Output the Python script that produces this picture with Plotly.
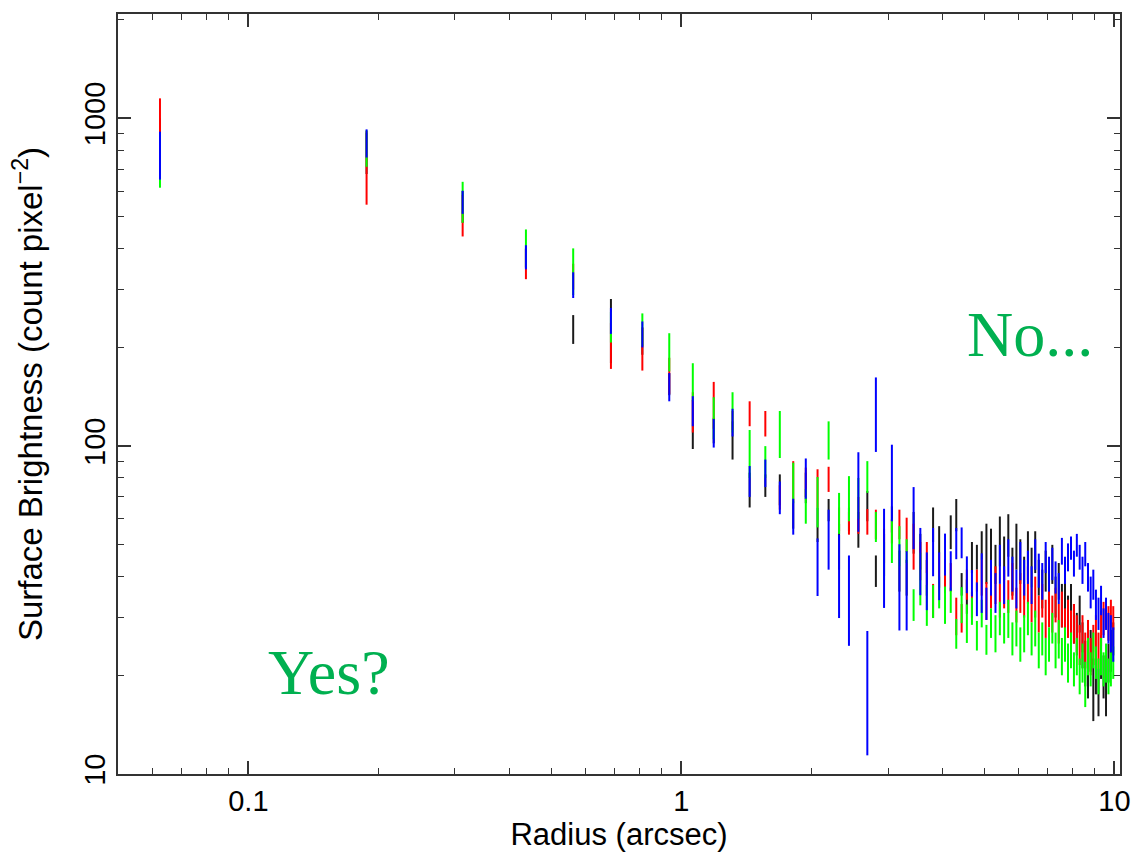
import numpy as np
import plotly.graph_objects as go

# Radial bins: 0.125 arcsec wide, centres from 0.0625 to 9.9375
radius = [(i + 0.5) * 0.125 for i in range(80)]

black_sb = [850, 790, 540, 375, 228, 230, 210, 155, 118, 112,
            105, 74, 76, 74, 62, 75, 58, 64, 50, 60,
            56, 66, 41.8, 47, 60, 42, 40, 55, 48, 40,
            58, 52, 38, 55, 62, 38, 35, 46, 46, 50,
            48, 48, 44, 52, 46, 54, 42, 50, 45, 40,
            47, 43, 48, 40, 37, 42, 38, 44, 35, 39,
            33, 36, 31, 34, 29, 27, 31, 25, 22, 20,
            24, 18.5, 21, 18, 23, 20, 19, 22, 24, 26]
black_err = [150, 114, 60, 25, 23, 51, 20, 12, 20, 10,
             14, 9, 6, 8, 6, 8, 7, 5, 8, 5,
             7, 7, 4.6, 7, 5.5, 6, 5, 8, 6, 5,
             7, 5, 2.4, 6.5, 7, 3, 4.2, 5, 4, 5,
             10, 8, 6, 9, 7, 8, 7, 8, 7, 6,
             8, 6, 7, 5, 5, 6, 5, 6, 5, 5,
             5, 5, 4, 4, 4, 4, 4, 4, 3.5, 3,
             3.5, 4, 3.5, 3, 3.5, 3, 4, 3, 3.5, 3]

red_sb = [950, 730, 510, 362, 330, 205, 200, 165, 128, 135,
          120, 126, 117.5, 70, 79, 78, 75, 79.5, 60, 58.4,
          62, 59, 58, 50, 55, 58, 54, 50, 45, 46,
          34, 42, 41, 40, 30.5, 30, 38, 33, 39, 40,
          34, 36, 38, 34, 37, 35, 39, 33, 36, 34,
          38, 33, 35, 31, 34, 30, 33, 31, 33, 29,
          32, 28, 30, 28, 29, 27, 25, 27, 24, 26,
          23, 25, 27, 24, 28, 30, 31, 29, 31, 30]
red_err = [200, 185, 74, 39, 30, 33, 30, 21, 18, 22,
           8, 11, 10.5, 6, 11, 8, 10, 7, 5, 4.7,
           8, 5.3, 6, 6, 4.5, 6, 6.5, 8, 6, 5,
           4, 5, 4.3, 4, 4, 3, 4, 3, 3, 5,
           4.5, 4, 5, 4, 5, 4, 5, 4, 5, 4,
           5, 4, 5, 4, 4, 4, 5, 4, 4, 4,
           4, 4, 4, 3.5, 4, 3.5, 3.5, 3.5, 3, 3.5,
           3, 3.5, 3.5, 3, 3.5, 3.5, 3, 3.5, 3, 2.5]

green_sb = [760, 815, 560, 405, 345, 232, 228, 195, 158, 123,
            128, 96, 90, 110, 78, 66, 68.5, 105, 63, 70,
            70, 81, 57, 45, 52, 50, 48, 32.95, 40, 33,
            33.8, 36, 33, 34, 26.9, 33, 29, 31.5, 26.55, 31,
            25.8, 29, 27, 30, 28, 30, 26, 28, 25, 27,
            30, 26, 28, 24, 26, 23, 25, 28, 24, 26,
            23, 25, 22, 24, 21, 23, 20, 22, 19, 23,
            21, 24, 22, 20, 23, 21, 22, 20, 21, 22]
green_err = [146, 104, 80, 53, 56, 25, 26, 26, 21, 18,
             18, 16, 10, 18, 11, 8, 12, 14, 9, 11,
             10, 9, 6, 6, 8, 7, 4, 3.65, 7.3, 4.7,
             3.9, 4, 4.3, 3, 2.8, 4.15, 3.9, 3, 2.75, 3,
             2.7, 3, 3.5, 3.5, 3, 4, 3, 3.5, 3, 3.5,
             3.5, 3, 3.5, 3, 3, 3, 3, 3, 3, 3.5,
             3, 3, 3, 3, 2.5, 3, 2.5, 3, 3, 3,
             2.5, 3, 2.5, 2.5, 3, 2.5, 3, 2.5, 2.5, 2.5]

blue_sb = [780, 842, 556, 378, 311, 242, 220, 152, 128.5, 110,
           118.5, 78.5, 83, 70, 61.4, 80.4, 43.6, 53, 41.8, 35.5,
           75.3, 19.35, 129, 48.25, 80, 38.8, 37.6, 61.75, 45.7, 39.5,
           48.2, 40.65, 47.2, 42, 50.75, 51, 40.85, 38.35, 34.35, 39.05,
           33.25, 40, 36, 44, 38, 46, 41, 37, 45, 40,
           43, 38, 47, 42, 39, 46, 41, 44, 40, 37,
           48, 42, 46, 49, 44, 50, 46, 42, 47, 40,
           36, 38, 33, 31, 34, 29, 31, 28, 27, 25]
blue_err = [130, 83, 45, 32, 28, 22, 20, 15, 13.5, 11,
            11.5, 8.5, 8, 8, 7.7, 11.3, 8.7, 11, 11.9, 10.9,
            20.5, 7.95, 33, 16.15, 21, 11.4, 10.2, 13.25, 10.6, 7.9,
            8.1, 6.75, 6.9, 5.8, 5.55, 5.5, 5.25, 3.55, 4.05, 8.05,
            3.75, 5, 5, 6, 5, 6, 5, 5, 6, 5,
            5, 5, 5, 5, 5, 5, 5, 5, 4.5, 4,
            4.5, 4, 4.5, 4, 4, 4, 4, 4, 4, 4,
            4, 4, 3.5, 3.5, 3.5, 3, 3.5, 3, 3.5, 3]

x_ticks = [0.1, 1, 10]
x_tick_text = ["0.1", "1", "10"]
y_ticks = [10, 100, 1000]
y_tick_text = ["10", "100", "1000"]

# minor ticks at 2..9 of each decade
x_minor = [m * d for d in (0.01, 0.1, 1) for m in range(2, 10)]
y_minor = [m * d for d in (10, 100, 1000) for m in range(2, 10)]

series = [
    ("black", black_sb, black_err, "#1a1a1a"),
    ("red", red_sb, red_err, "#ff0000"),
    ("green", green_sb, green_err, "#00ff00"),
    ("blue", blue_sb, blue_err, "#0000ff"),
]

fig = go.Figure()
for name, sb, err, col in series:
    fig.add_trace(go.Scatter(
        x=radius, y=sb, name=name, mode="markers",
        marker=dict(size=1, color="rgba(0,0,0,0)"),
        error_y=dict(type="data", array=err, color=col, thickness=2, width=0),
        showlegend=False,
    ))

tick_font = dict(family="Liberation Sans, Arial, sans-serif", size=29, color="#000000")
xtitle_font = dict(family="Liberation Sans, Arial, sans-serif", size=31, color="#000000")
ytitle_font = dict(family="Liberation Sans, Arial, sans-serif", size=33, color="#000000")

fig.update_xaxes(
    type="log", range=[np.log10(0.05), np.log10(10.3)],
    tickvals=x_ticks, ticktext=x_tick_text,
    ticks="inside", ticklen=13, tickwidth=1.5, tickcolor="#333333",
    minor=dict(tickvals=x_minor, ticks="inside", ticklen=6, tickwidth=1.2,
               tickcolor="#333333", showgrid=False),
    showline=True, linecolor="#333333", linewidth=1.5, mirror="allticks",
    showgrid=False, zeroline=False, tickfont=tick_font,
    title=dict(text="Radius (arcsec)", font=xtitle_font, standoff=6),
)
fig.update_yaxes(
    type="log", range=[1, 3.318],
    tickvals=y_ticks, ticktext=y_tick_text, tickangle=-90,
    ticks="inside", ticklen=13, tickwidth=1.5, tickcolor="#333333",
    minor=dict(tickvals=y_minor, ticks="inside", ticklen=6, tickwidth=1.2,
               tickcolor="#333333", showgrid=False),
    showline=True, linecolor="#333333", linewidth=1.5, mirror="allticks",
    showgrid=False, zeroline=False, tickfont=tick_font,
    title=dict(text="Surface Brightness (count pixel<sup>−2</sup>)", font=ytitle_font, standoff=26),
)

note_font = dict(family="Liberation Serif, Times New Roman, serif", size=64, color="#00b050")
fig.add_annotation(text="No...", xref="paper", yref="paper", x=0.910, y=0.578,
                   xanchor="center", yanchor="middle", showarrow=False, font=note_font)
fig.add_annotation(text="Yes?", xref="paper", yref="paper", x=0.211, y=0.134,
                   xanchor="center", yanchor="middle", showarrow=False, font=note_font)

fig.update_layout(
    width=1143, height=856,
    margin=dict(l=118, r=22, t=12, b=79),
    paper_bgcolor="white", plot_bgcolor="white",
)

fig.write_html("out.html")
